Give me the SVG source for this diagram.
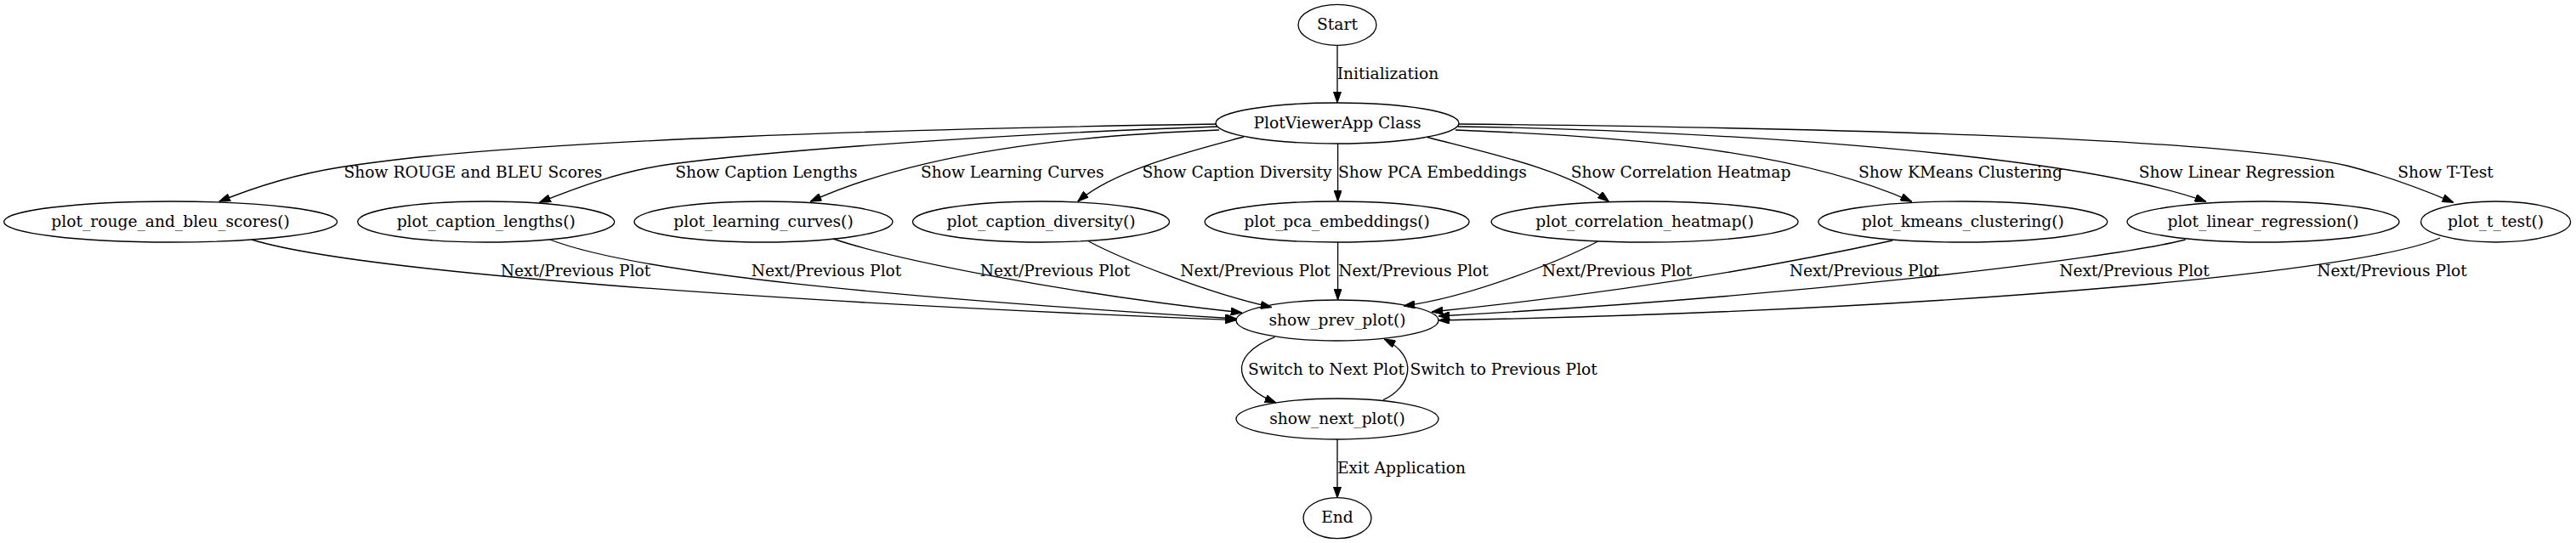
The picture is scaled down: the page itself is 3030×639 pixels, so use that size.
<svg xmlns="http://www.w3.org/2000/svg" width="3030" height="639" viewBox="0 0 3030 639">
<style>
.n ellipse{fill:none;stroke:#000;stroke-width:1.33}
text{font-family:"DejaVu Serif","Liberation Serif",serif;font-size:18.67px;fill:#000;text-anchor:middle}
.e path{fill:none;stroke:#000;stroke-width:1.33;marker-end:url(#ah)}
</style>
<defs>
<marker id="ah" viewBox="0 0 13.33 9.33" refX="13.33" refY="4.67" markerWidth="13.33" markerHeight="9.33" markerUnits="userSpaceOnUse" orient="auto">
<path d="M0,0 L13.33,4.67 L0,9.33 z" fill="#000" stroke="#000" stroke-width="1"/>
</marker>
</defs>
<rect width="3030" height="639" fill="#fff"/>
<g id="connectors" class="e">
<path d="M1573,53.3 L1573,121"/>
<path d="M1431,146 C1100,151 600,164 399,197 C349,205 300,220 257.6,237.3"/>
<path d="M1432,149 C1250,155 950,172 790,193 C730,201 675,222 634.5,238.3"/>
<path d="M1434,153 C1250,160 1080,180 953,237.3"/>
<path d="M1463,161 C1400,178 1310,200 1267.6,237.3"/>
<path d="M1573.6,169 L1573.6,237"/>
<path d="M1679,161.5 C1750,180 1845,200 1892.5,237.3"/>
<path d="M1712,153 C1900,160 2110,175 2248.7,237.3"/>
<path d="M1715,149 C1950,152 2420,175 2595,237.3"/>
<path d="M1716,146 C2100,150 2600,160 2760.7,195 C2800,205 2850,223 2886,238.3"/>
<path d="M296,282 C420,320 900,355 1454.5,376.7"/>
<path d="M647,282 C750,322 1050,350 1454.5,375"/>
<path d="M980,281 C1050,305 1250,345 1461,368"/>
<path d="M1280.5,284 C1320,305 1420,345 1496,361.7"/>
<path d="M1573.6,285 L1573.6,353"/>
<path d="M1879.6,284 C1840,305 1730,350 1651,360"/>
<path d="M2226,283 C2080,315 1900,345 1684,367"/>
<path d="M2570.7,282 C2480,305 2100,350 1692,372"/>
<path d="M2870,280 C2780,320 2300,365 1692,377"/>
<path d="M1499.5,396.7 C1440,420 1455,456 1501,474"/>
<path d="M1627,470.7 C1660,455 1670,420 1628,399"/>
<path d="M1573,517 L1573,586"/>
</g>
<g id="edge-labels">
<text x="1632.5" y="92.8">Initialization</text>
<text x="556.5" y="208.6">Show ROUGE and BLEU Scores</text>
<text x="901.5" y="208.6">Show Caption Lengths</text>
<text x="1190.7" y="208.6">Show Learning Curves</text>
<text x="1455" y="208.6">Show Caption Diversity</text>
<text x="1685" y="208.6">Show PCA Embeddings</text>
<text x="1977" y="208.6">Show Correlation Heatmap</text>
<text x="2306" y="208.6">Show KMeans Clustering</text>
<text x="2631" y="208.6">Show Linear Regression</text>
<text x="2876.5" y="208.6">Show T-Test</text>
<text x="677" y="324.6">Next/Previous Plot</text>
<text x="972" y="324.6">Next/Previous Plot</text>
<text x="1241" y="324.6">Next/Previous Plot</text>
<text x="1476.5" y="324.6">Next/Previous Plot</text>
<text x="1662.5" y="324.6">Next/Previous Plot</text>
<text x="1902" y="324.6">Next/Previous Plot</text>
<text x="2193" y="324.6">Next/Previous Plot</text>
<text x="2510.5" y="324.6">Next/Previous Plot</text>
<text x="2813.5" y="324.6">Next/Previous Plot</text>
<text x="1560" y="440.6">Switch to Next Plot</text>
<text x="1768.7" y="440.6">Switch to Previous Plot</text>
<text x="1648.5" y="557">Exit Application</text>
</g>
<g id="start" class="n"><ellipse cx="1573" cy="29.3" rx="46" ry="24"/><text x="1573" y="34.9">Start</text></g>
<g id="plotviewerapp" class="n"><ellipse cx="1573" cy="145" rx="143" ry="24"/><text x="1573" y="150.6">PlotViewerApp Class</text></g>
<g id="plot_rouge_and_bleu_scores" class="n"><ellipse cx="200.6" cy="261" rx="196" ry="24"/><text x="200.6" y="266.6">plot_rouge_and_bleu_scores()</text></g>
<g id="plot_caption_lengths" class="n"><ellipse cx="571.7" cy="261" rx="151" ry="24"/><text x="571.7" y="266.6">plot_caption_lengths()</text></g>
<g id="plot_learning_curves" class="n"><ellipse cx="898" cy="261" rx="152" ry="24"/><text x="898" y="266.6">plot_learning_curves()</text></g>
<g id="plot_caption_diversity" class="n"><ellipse cx="1224.5" cy="261" rx="151" ry="24"/><text x="1224.5" y="266.6">plot_caption_diversity()</text></g>
<g id="plot_pca_embeddings" class="n"><ellipse cx="1572.6" cy="261" rx="155.5" ry="24"/><text x="1572.6" y="266.6">plot_pca_embeddings()</text></g>
<g id="plot_correlation_heatmap" class="n"><ellipse cx="1934.6" cy="261" rx="180.5" ry="24"/><text x="1934.6" y="266.6">plot_correlation_heatmap()</text></g>
<g id="plot_kmeans_clustering" class="n"><ellipse cx="2308.8" cy="261" rx="170" ry="24"/><text x="2308.8" y="266.6">plot_kmeans_clustering()</text></g>
<g id="plot_linear_regression" class="n"><ellipse cx="2662" cy="261" rx="160" ry="24"/><text x="2662" y="266.6">plot_linear_regression()</text></g>
<g id="plot_t_test" class="n"><ellipse cx="2935.6" cy="261" rx="88" ry="24"/><text x="2935.6" y="266.6">plot_t_test()</text></g>
<g id="show_prev_plot" class="n"><ellipse cx="1573" cy="377" rx="119" ry="24"/><text x="1573" y="382.6">show_prev_plot()</text></g>
<g id="show_next_plot" class="n"><ellipse cx="1573" cy="493" rx="119" ry="24"/><text x="1573" y="498.6">show_next_plot()</text></g>
<g id="end" class="n"><ellipse cx="1573" cy="609.7" rx="40" ry="24"/><text x="1573" y="615.3">End</text></g>
</svg>
